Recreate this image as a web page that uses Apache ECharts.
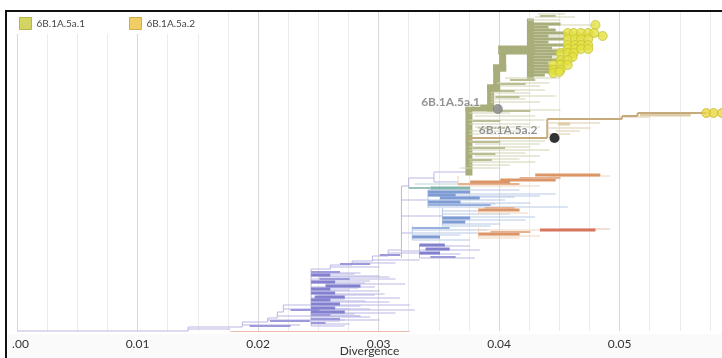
<!DOCTYPE html>
<html>
<head>
<meta charset="utf-8">
<script src="https://cdn.jsdelivr.net/npm/echarts@6.0.0/dist/echarts.min.js"></script>
<style>
  html, body { margin: 0; padding: 0; background: #fff; }
  #chart { width: 722px; height: 358px; }
</style>
</head>
<body>
<div id="chart"></div>
<script>
// divergence axis (the first label is cut by the panel edge in the original)
const tickValues = [0, 0.01, 0.02, 0.03, 0.04, 0.05];
const tickLabels = ['.00', '0.01', '0.02', '0.03', '0.04', '0.05'];

// clades shown in the legend
const cladeNames = ['6B.1A.5a.1', '6B.1A.5a.2'];
// internal nodes carrying the clade labels [divergence, tip order]
const cladeNodes = [[0.0399, 98], [0.0446, 127]];

// stems: [divergence, first tip, last tip, level]
// links: [parent divergence, node divergence, tip order, level]
// level: 1 single tip, 2 few tips, 3 dense bundle, 4/5 highlighted trunk
const purpleStems = [
  [0.0142, 316, 320, 1], [0.0187, 311, 316, 1], [0.0208, 307, 311, 1],
  [0.0216, 301, 307, 1], [0.0221, 294, 301, 1], [0.0244, 258, 315, 1],
  [0.0260, 254, 258, 1], [0.0278, 250, 254, 1], [0.0295, 245, 250, 1],
  [0.0308, 239, 245, 1], [0.0319, 175, 247, 1], [0.0325, 167, 177, 1],
  [0.0346, 161, 171, 1], [0.0334, 233, 247, 1]
];
const purpleLinks = [
  [0, 0.0142, 320, 1], [0.0142, 0.0187, 316, 1], [0.0187, 0.0208, 311, 1],
  [0.0208, 0.0216, 307, 1], [0.0216, 0.0221, 301, 1], [0.0221, 0.0244, 294, 1],
  [0.0244, 0.0260, 258, 1], [0.0260, 0.0278, 254, 1], [0.0278, 0.0295, 250, 1],
  [0.0295, 0.0308, 245, 1], [0.0308, 0.0319, 239, 1],
  [0.0142, 0.0177, 318, 1], [0.0187, 0.0235, 314, 1], [0.0208, 0.0272, 309, 1],
  [0.0216, 0.0285, 305, 1], [0.0221, 0.0276, 298, 1], [0.0260, 0.0301, 256, 1],
  [0.0278, 0.0314, 252, 1], [0.0295, 0.0334, 249, 1], [0.0308, 0.0351, 242, 1],
  [0.0244, 0.0285, 262, 1], [0.0244, 0.0301, 265, 1], [0.0244, 0.0314, 268, 1],
  [0.0244, 0.0289, 272, 1], [0.0244, 0.0297, 276, 1], [0.0244, 0.0276, 279, 1],
  [0.0244, 0.0305, 283, 1], [0.0244, 0.0318, 287, 1], [0.0244, 0.0289, 290, 1],
  [0.0244, 0.0326, 294, 1], [0.0244, 0.0293, 298, 1], [0.0244, 0.0314, 302, 1],
  [0.0244, 0.0285, 305, 1], [0.0244, 0.0301, 309, 1], [0.0244, 0.0276, 313, 1],
  [0.0244, 0.0272, 315, 1],
  [0.0244, 0.0280, 263, 1], [0.0250, 0.0309, 266, 1], [0.0244, 0.0293, 270, 1],
  [0.0256, 0.0322, 273, 1], [0.0244, 0.0283, 277, 1], [0.0244, 0.0301, 280, 1],
  [0.0250, 0.0297, 284, 1], [0.0244, 0.0272, 288, 1], [0.0244, 0.0309, 291, 1],
  [0.0244, 0.0285, 295, 1], [0.0250, 0.0330, 299, 1], [0.0244, 0.0280, 303, 1],
  [0.0244, 0.0293, 306, 1], [0.0244, 0.0268, 310, 1],
  [0.0319, 0.0325, 175, 1], [0.0325, 0.0346, 167, 1], [0.0346, 0.0375, 161, 1],
  [0.0346, 0.0366, 171, 1], [0.0319, 0.0341, 189, 1], [0.0319, 0.0353, 205, 1],
  [0.0319, 0.0328, 222, 1], [0.0319, 0.0334, 240, 1], [0.0334, 0.0376, 235, 1],
  [0.0334, 0.0384, 239, 1], [0.0334, 0.0368, 243, 1], [0.0334, 0.0380, 247, 1],
  [0.0193, 0.0227, 315, 2], [0.0210, 0.0243, 310, 2], [0.0227, 0.0251, 299, 2],
  [0.0268, 0.0293, 253, 2], [0.0301, 0.0318, 244, 2], [0.0244, 0.0268, 261, 2],
  [0.0244, 0.0260, 264, 3], [0.0251, 0.0276, 268, 2], [0.0244, 0.0264, 271, 3],
  [0.0256, 0.0285, 275, 3], [0.0244, 0.0260, 278, 3], [0.0244, 0.0264, 282, 3],
  [0.0247, 0.0272, 286, 3], [0.0244, 0.0260, 289, 3], [0.0244, 0.0268, 293, 3],
  [0.0244, 0.0264, 297, 3], [0.0244, 0.0272, 301, 3], [0.0244, 0.0260, 304, 2],
  [0.0244, 0.0268, 308, 2], [0.0244, 0.0256, 312, 2],
  [0.0334, 0.0355, 234, 3], [0.0339, 0.0359, 238, 3], [0.0334, 0.0351, 242, 3],
  [0.0343, 0.0364, 246, 2]
];
const blueStems = [[0.0341, 179, 197, 1], [0.0353, 197, 215, 1], [0.0328, 215, 229, 1]];
const blueLinks = [
  [0.0341, 0.0417, 179, 1], [0.0341, 0.0434, 185, 1], [0.0341, 0.0405, 189, 1],
  [0.0341, 0.0426, 192, 1], [0.0341, 0.0457, 196, 1], [0.0353, 0.0422, 209, 1],
  [0.0353, 0.0401, 213, 1], [0.0353, 0.0393, 215, 1], [0.0353, 0.0383, 200, 1],
  [0.0328, 0.0376, 229, 1], [0.0328, 0.0368, 224, 1], [0.0328, 0.0383, 222, 1],
  [0.0341, 0.0447, 183, 1], [0.0351, 0.0413, 186, 1], [0.0341, 0.0397, 193, 1],
  [0.0353, 0.0409, 203, 1], [0.0353, 0.0430, 206, 1], [0.0328, 0.0390, 219, 1],
  [0.0341, 0.0376, 181, 3], [0.0341, 0.0364, 184, 3], [0.0351, 0.0384, 187, 3],
  [0.0341, 0.0368, 191, 3], [0.0341, 0.0393, 194, 2], [0.0353, 0.0376, 207, 3],
  [0.0353, 0.0372, 211, 3], [0.0328, 0.0359, 217, 2], [0.0328, 0.0351, 226, 3]
];
const tealLinks = [
  [0.0330, 0.0401, 173, 1], [0.0325, 0.0343, 177, 2], [0.0343, 0.0376, 177, 3]
];
const orangeStems = [[0.0366, 165, 173, 1], [0.0383, 196, 203, 1], [0.0383, 217, 227, 1]];
const orangeLinks = [
  [0.0366, 0.0434, 175, 1], [0.0442, 0.0492, 165, 1], [0.0383, 0.0424, 202, 1],
  [0.0383, 0.0434, 225, 1], [0.0383, 0.0451, 219, 1], [0.0383, 0.0417, 227, 1],
  [0.0366, 0.0417, 173, 2], [0.0376, 0.0409, 171, 3], [0.0401, 0.0447, 169, 3],
  [0.0417, 0.0451, 167, 2], [0.0430, 0.0484, 164, 3], [0.0383, 0.0417, 199, 3],
  [0.0388, 0.0413, 197, 2], [0.0383, 0.0417, 223, 3], [0.0393, 0.0426, 221, 2]
];
const redLinks = [
  [0.0177, 0.0326, 320.5, 1], [0.0451, 0.0492, 218, 1], [0.0434, 0.0480, 219, 3]
];
const greenStems = [
  [0.0375, 97, 161, 4], [0.0393, 77, 97, 4], [0.0398, 57, 77, 4],
  [0.0403, 39, 57, 4], [0.0426, 11, 65, 4]
];
const greenLinks = [
  // single tips
  [0.0432, 0.0455, 3, 1], [0.0430, 0.0463, 6, 1], [0.0424, 0.0451, 9, 1],
  [0.0441, 0.0480, 14, 1], [0.0447, 0.0479, 22, 1], [0.0441, 0.0486, 25, 1],
  [0.0441, 0.0474, 28, 1], [0.0441, 0.0474, 34, 1], [0.0441, 0.0474, 38, 1],
  [0.0441, 0.0462, 42, 1], [0.0441, 0.0461, 46, 1], [0.0441, 0.0457, 49, 1],
  [0.0438, 0.0457, 54, 1], [0.0438, 0.0451, 59, 1],
  [0.0405, 0.0451, 67, 1], [0.0398, 0.0442, 72, 1], [0.0398, 0.0434, 75, 1],
  [0.0393, 0.0438, 79, 1], [0.0393, 0.0426, 82, 1], [0.0393, 0.0447, 85, 1],
  [0.0393, 0.0422, 88, 1], [0.0393, 0.0434, 91, 1], [0.0399, 0.0451, 99, 1],
  [0.0375, 0.0409, 102, 1], [0.0380, 0.0430, 105, 1], [0.0375, 0.0438, 109, 1],
  [0.0375, 0.0426, 113, 1], [0.0380, 0.0434, 116, 1], [0.0375, 0.0417, 120, 1],
  [0.0375, 0.0430, 123, 1], [0.0375, 0.0438, 130, 1], [0.0380, 0.0434, 133, 1],
  [0.0375, 0.0426, 136, 1], [0.0375, 0.0442, 139, 1], [0.0375, 0.0422, 142, 1],
  [0.0380, 0.0434, 145, 1], [0.0375, 0.0417, 148, 1], [0.0375, 0.0430, 151, 1],
  [0.0375, 0.0409, 154, 1], [0.0368, 0.0401, 157, 1],
  // small bundles
  [0.0434, 0.0447, 5, 2], [0.0409, 0.0430, 69, 2], [0.0401, 0.0422, 73, 2],
  [0.0394, 0.0413, 80, 2], [0.0397, 0.0417, 86, 2], [0.0401, 0.0426, 100, 2],
  [0.0378, 0.0401, 110, 2], [0.0383, 0.0405, 117, 2], [0.0376, 0.0401, 131, 2],
  [0.0378, 0.0405, 137, 2], [0.0376, 0.0397, 143, 2], [0.0376, 0.0394, 149, 2],
  // the large collapsed bundle
  [0.0426, 0.0451, 13, 3], [0.0426, 0.0441, 16, 3], [0.0426, 0.0447, 19, 3],
  [0.0426, 0.0456, 22, 3], [0.0426, 0.0441, 25, 3], [0.0426, 0.0455, 28, 3],
  [0.0426, 0.0441, 31, 3], [0.0426, 0.0455, 34, 3], [0.0426, 0.0444, 37, 3],
  [0.0426, 0.0455, 40, 3], [0.0426, 0.0449, 43, 3], [0.0426, 0.0444, 46, 3],
  [0.0426, 0.0455, 49, 3], [0.0426, 0.0441, 52, 3], [0.0426, 0.0444, 55, 3],
  [0.0426, 0.0442, 58, 3], [0.0426, 0.0444, 61, 3], [0.0426, 0.0438, 64, 3],
  // trunk
  [0.0375, 0.0393, 97, 4], [0.0393, 0.0398, 77, 4], [0.0398, 0.0403, 57, 4],
  [0.0403, 0.0426, 39, 5]
];
const tanStems = [[0.0440, 108, 127, 2], [0.0502, 105, 108, 2], [0.0515, 102, 105, 2]];
const tanLinks = [
  [0.0500, 0.0525, 106, 1], [0.0440, 0.0484, 112, 1], [0.0440, 0.0476, 117, 1],
  [0.0447, 0.0467, 120, 1], [0.0440, 0.0459, 123, 1],
  [0.0517, 0.0559, 104, 3], [0.0449, 0.0459, 113, 3],
  [0.0375, 0.0440, 127, 2], [0.0440, 0.0502, 108, 2], [0.0502, 0.0515, 105, 2],
  [0.0515, 0.0572, 102, 2]
];

// highlighted tips [divergence, tip order]
const clade1Tips = [
  [0.0480, 14], [0.0486, 25],
  [0.0457, 22], [0.0462, 22], [0.0468, 22], [0.0474, 22], [0.0479, 22],
  [0.0457, 28], [0.0463, 28], [0.0468, 28], [0.0474, 28],
  [0.0457, 34], [0.0463, 34], [0.0468, 34], [0.0474, 34],
  [0.0457, 38], [0.0463, 38], [0.0468, 38], [0.0474, 38],
  [0.0451, 42], [0.0457, 42], [0.0462, 42], [0.0461, 46],
  [0.0451, 49], [0.0457, 49],
  [0.0445, 54], [0.0451, 54], [0.0457, 54],
  [0.0445, 59], [0.0451, 59], [0.0445, 62], [0.0450, 61]
];
const clade2Tips = [[0.0572, 102], [0.0578, 102], [0.0585, 102]];

const lineWidths = [0, 1, 2, 3, 7, 9];
const palettes = {
  purple: [null, '#b9b7e5', '#9c9ada', '#8280cf'],
  blue: [null, '#b8c9e8', '#98b0dd', '#7e9bd3'],
  teal: [null, '#bcd8d2', '#9ac4bc', '#80b6ac'],
  orange: [null, '#f0d3bb', '#e6b190', '#dc9567'],
  red: [null, '#ecbbb0', '#e09383', '#d6765e'],
  green: [null, '#d1d3b2', '#bbbe95', '#a9ad79', '#a9ad79', '#a9ad79'],
  tan: [null, '#ddcca9', '#c7aa7b', '#dfcda9']
};

function stemRenderer(colors) {
  return function (params, api) {
    const a = api.coord([api.value(0), api.value(1)]);
    const b = api.coord([api.value(0), api.value(2)]);
    const lvl = api.value(3);
    return {
      type: 'line',
      shape: { x1: a[0], y1: a[1], x2: b[0], y2: b[1] },
      style: { stroke: colors[lvl], lineWidth: lineWidths[lvl], lineCap: lvl >= 4 ? 'square' : 'butt' }
    };
  };
}

function linkRenderer(colors) {
  return function (params, api) {
    const a = api.coord([api.value(0), api.value(2)]);
    const b = api.coord([api.value(1), api.value(2)]);
    const lvl = api.value(3);
    return {
      type: 'line',
      shape: { x1: a[0], y1: a[1], x2: b[0], y2: b[1] },
      style: { stroke: colors[lvl], lineWidth: lineWidths[lvl], lineCap: lvl >= 4 ? 'square' : 'butt' }
    };
  };
}

function treeSeries(key, stems, links) {
  const out = [];
  if (stems.length) {
    out.push({ type: 'custom', name: key + ' stems', data: stems, renderItem: stemRenderer(palettes[key]),
      encode: { x: 0, y: [1, 2] }, silent: true, z: 2 });
  }
  out.push({ type: 'custom', name: key + ' links', data: links, renderItem: linkRenderer(palettes[key]),
    encode: { x: [0, 1], y: 2 }, silent: true, z: 2 });
  return out;
}

const chart = echarts.init(document.getElementById('chart'));

const labelStyle = {
  fontFamily: 'Lato', fontWeight: 'bold', fontSize: 12, color: '#787878',
  textBorderColor: 'rgba(255,255,255,0.85)', textBorderWidth: 2
};

chart.setOption({
  animation: false,
  textStyle: { fontFamily: 'Lato' },
  grid: { left: 17, right: 0, top: 11, bottom: 27, outerBoundsMode: 'none' },
  legend: {
    left: 9, top: 12,
    icon: 'rect', itemWidth: 12, itemHeight: 12, itemGap: 44,
    selectedMode: false,
    backgroundColor: '#fff',
    padding: [5, 30, 4, 10],
    textStyle: { fontFamily: 'Lato', fontSize: 10, color: '#444' },
    data: [
      { name: cladeNames[0], itemStyle: { color: '#c9c93c', borderColor: '#a9a932', borderWidth: 1 } },
      { name: cladeNames[1], itemStyle: { color: '#ecc23e', borderColor: '#c9a032', borderWidth: 1 } }
    ]
  },
  xAxis: {
    type: 'value', min: 0, max: 0.0585, interval: 0.0025,
    name: 'Divergence', nameLocation: 'middle', nameGap: 14, nameMoveOverlap: false,
    nameTextStyle: { fontFamily: 'Lato', fontSize: 12, color: '#333' },
    axisLine: { show: false }, axisTick: { show: false },
    axisLabel: {
      fontFamily: 'Lato', fontSize: 12, color: '#333', margin: 7, showMaxLabel: false,
      formatter: function (v) {
        const i = tickValues.findIndex(t => Math.abs(t - v) < 1e-9);
        if (i < 0) return '';
        return i === 0 ? '{cut|' + tickLabels[0] + '}' : tickLabels[i];
      },
      rich: { cut: { fontFamily: 'Lato', fontSize: 12, color: '#333', padding: [0, 0, 0, 7] } }
    },
    splitLine: { show: true, lineStyle: { color: ['#d8d8d8', '#ebebeb', '#ebebeb', '#ebebeb'], width: 1 } }
  },
  yAxis: { type: 'value', min: 0, max: 320, inverse: true, show: false },
  series: [
    ...treeSeries('purple', purpleStems, purpleLinks),
    ...treeSeries('blue', blueStems, blueLinks),
    ...treeSeries('teal', [], tealLinks),
    ...treeSeries('orange', orangeStems, orangeLinks),
    ...treeSeries('red', [], redLinks),
    ...treeSeries('green', greenStems, greenLinks),
    ...treeSeries('tan', tanStems, tanLinks),
    {
      name: cladeNames[0], type: 'scatter', data: clade1Tips, symbolSize: 9, z: 5,
      itemStyle: { color: '#e4e13e', borderColor: '#c6c336', borderWidth: 1 }
    },
    {
      name: cladeNames[1], type: 'scatter', data: clade2Tips, symbolSize: 9, z: 5,
      itemStyle: { color: '#e9d640', borderColor: '#cbb936', borderWidth: 1 }
    },
    {
      name: 'clade labels', type: 'scatter', z: 6, symbolSize: 10,
      data: [
        { value: cladeNodes[0], itemStyle: { color: '#7f7f7f' },
          label: { show: true, formatter: cladeNames[0], position: 'left', distance: 13, offset: [0, -7], ...labelStyle } },
        { value: cladeNodes[1], itemStyle: { color: '#000' },
          label: { show: true, formatter: cladeNames[1], position: 'left', distance: 12, offset: [0, -8], ...labelStyle } }
      ]
    }
  ],
  graphic: [
    { type: 'rect', z: -1, silent: true, shape: { x: 8, y: 334, width: 714, height: 24 }, style: { fill: '#fafafa' } },
    { type: 'rect', z: 101, silent: true, shape: { x: 5, y: 10, width: 717, height: 2 }, style: { fill: '#111' } },
    { type: 'rect', z: 101, silent: true, shape: { x: 5, y: 10, width: 2, height: 348 }, style: { fill: '#111' } }
  ]
});
</script>
</body>
</html>
